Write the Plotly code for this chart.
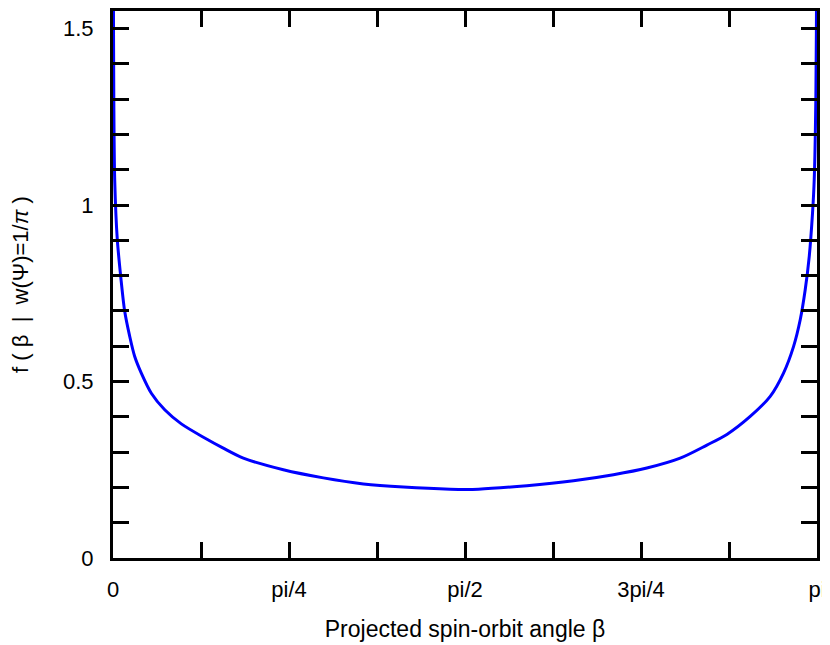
import numpy as np
import plotly.graph_objects as go

# ── 데이터 ─────────────────────────────────────────
beta = [0.0005, 0.0018, 0.0036, 0.0076, 0.0192, 0.0344, 0.0522, 0.0746, 0.0969,
        0.1263, 0.1710, 0.2308, 0.3049, 0.4094, 0.4900, 0.5817, 0.7602, 0.9388,
        1.1174, 1.2959, 1.5044, 1.6307, 1.8468, 2.0548, 2.2333, 2.3824, 2.5311,
        2.6503, 2.7395, 2.8435, 2.9328, 2.9922, 3.0368, 3.0667, 3.0890, 3.1069,
        3.1216, 3.1292, 3.1364, 3.1397, 3.1411]
f_beta = [2.20, 1.62, 1.30, 1.072, 0.902, 0.798, 0.699, 0.628, 0.571,
          0.524, 0.467, 0.420, 0.380, 0.340, 0.312, 0.283, 0.250, 0.227,
          0.210, 0.201, 0.195, 0.195, 0.205, 0.219, 0.236, 0.255, 0.283,
          0.320, 0.350, 0.401, 0.458, 0.524, 0.599, 0.675, 0.760, 0.854,
          0.977, 1.072, 1.30, 1.62, 2.20]

x_tick_labels = ["0", "", "pi/4", "", "pi/2", "", "3pi/4", "", "pi"]
y_tick_labels = ["0", "", "", "", "", "0.5", "", "", "", "", "1",
                 "", "", "", "", "1.5"]

x_tick_vals = [i * np.pi / 8 for i in range(len(x_tick_labels))]
y_tick_vals = [round(i * 0.1, 1) for i in range(len(y_tick_labels))]

FONT = "Liberation Sans, Arial, sans-serif"

fig = go.Figure()
fig.add_trace(go.Scatter(
    x=beta, y=f_beta, mode="lines",
    line=dict(color="#0000FF", width=3, shape="spline", smoothing=0.8),
    showlegend=False,
))

axis_common = dict(
    showline=True, linecolor="black", linewidth=3, mirror="allticks",
    ticks="inside", ticklen=16, tickwidth=3, tickcolor="black",
    showgrid=False, zeroline=False, automargin=False,
    tickfont=dict(family=FONT, size=22, color="black"),
)

# 페이지 기본 여백(8px)을 고려한 크기
fig.update_layout(
    width=822, height=637,
    paper_bgcolor="white", plot_bgcolor="white",
    margin=dict(l=105, r=13, t=3, b=87),
    font=dict(family=FONT, size=22, color="black"),
    xaxis=dict(
        **axis_common,
        range=[0, np.pi],
        tickmode="array", tickvals=x_tick_vals, ticktext=x_tick_labels,
        ticklabelstandoff=10,
        title=dict(text="Projected spin-orbit angle β", standoff=20,
                   font=dict(family=FONT, size=23)),
    ),
    yaxis=dict(
        **axis_common,
        range=[0, 1.550],
        tickmode="array", tickvals=y_tick_vals, ticktext=y_tick_labels,
        ticklabelstandoff=12,
        title=dict(text="f (\u00a0β\u00a0\u00a0|\u00a0\u00a0w(Ψ)=1/<i>π</i>\u00a0)",
                   standoff=34, font=dict(family=FONT, size=22)),
    ),
)

fig.write_html("out.html")
